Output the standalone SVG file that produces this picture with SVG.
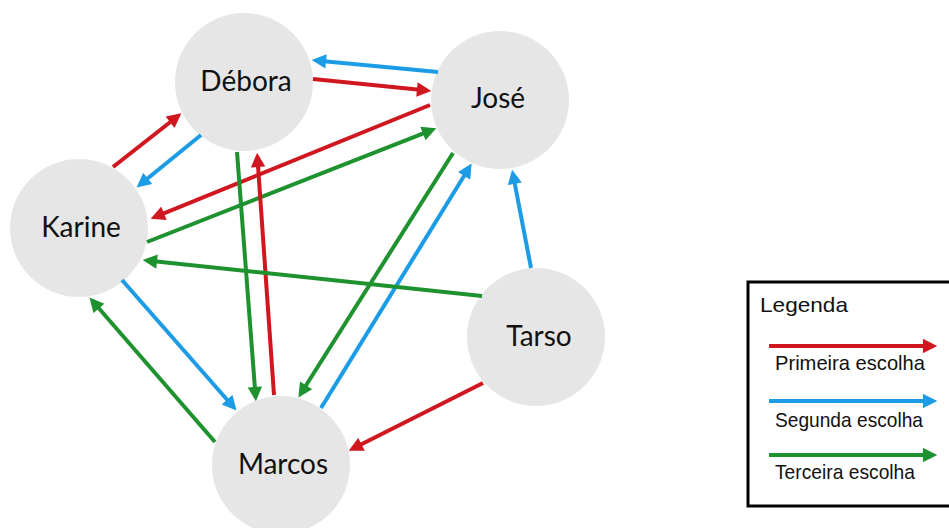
<svg xmlns="http://www.w3.org/2000/svg" width="949" height="528" viewBox="0 0 949 528">
<style>
.node{fill:#e6e6e6}
.lbl{font-family:Lato,"Open Sans",sans-serif;font-size:28px;fill:#111;text-anchor:middle}
.e{fill:none;stroke-width:4}
.r{stroke:#d0161e}
.b{stroke:#1c9ce5}
.g{stroke:#1e922e}
.lg{font-family:"Liberation Sans",Arial,sans-serif;font-size:21px;fill:#111}
</style>
<defs>
<marker id="ar" viewBox="0 0 10 10" refX="7" refY="5" markerWidth="4" markerHeight="3.6" orient="auto" markerUnits="strokeWidth"><path d="M0,0 L10,5 L0,10 z" fill="#d0161e"/></marker>
<marker id="ab" viewBox="0 0 10 10" refX="7" refY="5" markerWidth="4" markerHeight="3.6" orient="auto" markerUnits="strokeWidth"><path d="M0,0 L10,5 L0,10 z" fill="#1c9ce5"/></marker>
<marker id="ag" viewBox="0 0 10 10" refX="7" refY="5" markerWidth="4" markerHeight="3.6" orient="auto" markerUnits="strokeWidth"><path d="M0,0 L10,5 L0,10 z" fill="#1e922e"/></marker>
</defs>
<rect width="949" height="528" fill="#fff"/>
<g id="debora"><circle class="node" cx="244" cy="82" r="69"/><text class="lbl" x="246" y="91">Débora</text></g>
<g id="jose"><circle class="node" cx="500" cy="100" r="69"/><text class="lbl" x="498" y="108">José</text></g>
<g id="karine"><circle class="node" cx="79" cy="228" r="69"/><text class="lbl" x="81" y="237">Karine</text></g>
<g id="tarso"><circle class="node" cx="536" cy="337" r="69"/><text class="lbl" x="539" y="346">Tarso</text></g>
<g id="marcos"><circle class="node" cx="281" cy="465" r="69"/><text class="lbl" x="283" y="474">Marcos</text></g>
<g id="connectors">
<line class="e r" x1="313" y1="79" x2="427" y2="90.5" marker-end="url(#ar)"/>
<line class="e b" x1="438" y1="72" x2="316" y2="60.5" marker-end="url(#ab)"/>
<line class="e r" x1="430" y1="105" x2="154.6" y2="217.1" marker-end="url(#ar)"/>
<line class="e g" x1="147" y1="242" x2="432.3" y2="129.8" marker-end="url(#ag)"/>
<line class="e r" x1="113" y1="167" x2="178" y2="116" marker-end="url(#ar)"/>
<line class="e b" x1="201" y1="135" x2="139.9" y2="184.8" marker-end="url(#ab)"/>
<line class="e g" x1="237" y1="152" x2="255.6" y2="397" marker-end="url(#ag)"/>
<line class="e r" x1="274" y1="395" x2="257.4" y2="157" marker-end="url(#ar)"/>
<line class="e g" x1="453" y1="153" x2="300.7" y2="393.8" marker-end="url(#ag)"/>
<line class="e b" x1="321" y1="408" x2="469.4" y2="167.3" marker-end="url(#ab)"/>
<line class="e b" x1="531" y1="268" x2="512.9" y2="173.9" marker-end="url(#ab)"/>
<line class="e g" x1="482" y1="296" x2="147" y2="260.5" marker-end="url(#ag)"/>
<line class="e r" x1="483" y1="383" x2="352.5" y2="448.8" marker-end="url(#ar)"/>
<line class="e b" x1="122" y1="280" x2="233.7" y2="407.2" marker-end="url(#ab)"/>
<line class="e g" x1="215" y1="442" x2="92.3" y2="300.8" marker-end="url(#ag)"/>
</g>
<g id="legend">
<rect x="748" y="282" width="230" height="224" fill="#fff" stroke="#000" stroke-width="3"/>
<text class="lg" x="760" y="312" font-size="22" textLength="88" lengthAdjust="spacingAndGlyphs">Legenda</text>
<line class="e r" x1="769" y1="346" x2="933" y2="346" marker-end="url(#ar)"/>
<text class="lg" x="775" y="370" textLength="150" lengthAdjust="spacingAndGlyphs">Primeira escolha</text>
<line class="e b" x1="769" y1="401" x2="933" y2="401" marker-end="url(#ab)"/>
<text class="lg" x="775" y="427" textLength="148" lengthAdjust="spacingAndGlyphs">Segunda escolha</text>
<line class="e g" x1="769" y1="455" x2="933" y2="455" marker-end="url(#ag)"/>
<text class="lg" x="775" y="479" textLength="140" lengthAdjust="spacingAndGlyphs">Terceira escolha</text>
</g>
</svg>
